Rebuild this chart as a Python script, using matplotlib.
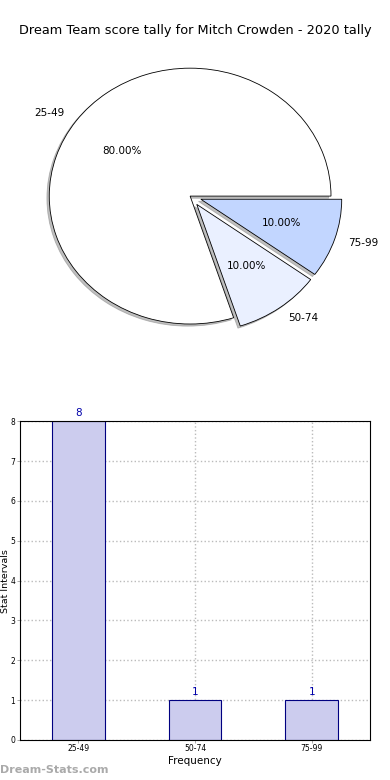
import matplotlib
matplotlib.use("Agg")
import matplotlib.pyplot as plt

title = "Dream Team score tally for Mitch Crowden - 2020 tally"
intervals = ["25-49", "50-74", "75-99"]
counts = [8, 1, 1]
pie_colors = ["#ffffff", "#eaf0ff", "#c2d6ff"]
explode = [0, 0.08, 0.08]

fig = plt.figure(figsize=(3.9, 7.8), dpi=100)

# pie on top, stretched (not equal aspect) like the original
ax1 = fig.add_axes([0.036, 0.5436, 0.903, 0.41])
ax1.pie(counts, labels=intervals, colors=pie_colors, explode=explode,
        autopct="%.2f%%", shadow={"ox": -0.012, "oy": -0.012, "color": "#808080"},
        startangle=0,
        wedgeprops={"edgecolor": "black", "linewidth": 0.6},
        textprops={"fontsize": 7.5})
ax1.set_aspect("auto")
ax1.set_xlim(-1.25, 1.25)
ax1.set_ylim(-1.25, 1.25)
fig.text(0.5, 0.961, title, ha="center", va="center", fontsize=9.3)

# bar chart below
ax2 = fig.add_axes([0.051, 0.0513, 0.898, 0.4087])
x = list(range(len(intervals)))
bars = ax2.bar(x, counts, width=0.45, color="#ccccee", edgecolor="#000080", linewidth=0.8, zorder=2)
for b, c in zip(bars, counts):
    ax2.text(b.get_x() + b.get_width() / 2, c + 0.08, str(c), ha="center", va="bottom",
             fontsize=7.5, color="#0000aa")
ax2.set_xlim(-0.5, 2.5)
ax2.set_ylim(0, 8)
ax2.set_xticks(x)
ax2.set_xticklabels(intervals)
ax2.set_yticks(range(0, 9))
ax2.tick_params(labelsize=5.5, length=2, width=0.5, color="#888888", pad=1.2)
ax2.grid(True, linestyle=":", color="#bbbbbb", linewidth=1.0, zorder=0)
ax2.set_axisbelow(True)
ax2.set_xlabel("Frequency", fontsize=7.5, labelpad=2)
ax2.set_ylabel("Stat Intervals", fontsize=6.8)
ax2.yaxis.set_label_coords(-0.028, 0.5)
for s in ax2.spines.values():
    s.set_linewidth(0.8)

fig.text(0.0, 0.013, "Dream-Stats.com", ha="left", va="center", fontsize=8,
         color="#aaaaaa", fontweight="bold")

fig.savefig("out.png", dpi=100)
